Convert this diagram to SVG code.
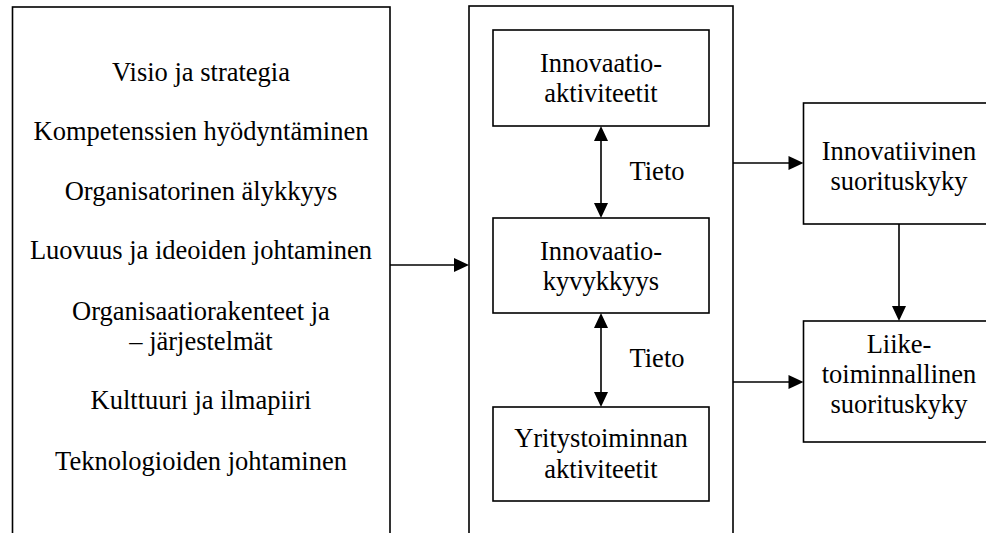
<svg xmlns="http://www.w3.org/2000/svg" width="986" height="533" viewBox="0 0 986 533">
  <rect width="986" height="533" fill="#fff"/>

  <g font-size="26.5" fill="#000">

  <!-- Left panel: management factors -->
  <g id="factors">
    <rect x="12.5" y="7" width="377.5" height="540" fill="#fff" stroke="#000" stroke-width="1.6"/>
    <text font-family="'Liberation Serif', serif" text-anchor="middle" x="201" y="81">Visio ja strategia</text>
    <text font-family="'Liberation Serif', serif" text-anchor="middle" x="201" y="140">Kompetenssien hyödyntäminen</text>
    <text font-family="'Liberation Serif', serif" text-anchor="middle" x="201" y="200">Organisatorinen älykkyys</text>
    <text font-family="'Liberation Serif', serif" text-anchor="middle" x="201" y="259">Luovuus ja ideoiden johtaminen</text>
    <text font-family="'Liberation Serif', serif" text-anchor="middle" x="201" y="320">Organisaatiorakenteet ja</text>
    <text font-family="'Liberation Serif', serif" text-anchor="middle" x="201" y="350">– järjestelmät</text>
    <text font-family="'Liberation Serif', serif" text-anchor="middle" x="201" y="409">Kulttuuri ja ilmapiiri</text>
    <text font-family="'Liberation Serif', serif" text-anchor="middle" x="201" y="470">Teknologioiden johtaminen</text>
  </g>

  <!-- Middle panel container -->
  <g id="core">
    <rect x="469" y="6" width="264" height="540" fill="#fff" stroke="#000" stroke-width="1.6"/>
  </g>

  <g id="innovation-activities">
    <rect x="493" y="30" width="216" height="96" fill="#fff" stroke="#000" stroke-width="1.6"/>
    <text font-family="'Liberation Serif', serif" text-anchor="middle" x="601" y="72">Innovaatio-</text>
    <text font-family="'Liberation Serif', serif" text-anchor="middle" x="601" y="102">aktiviteetit</text>
  </g>

  <g id="innovation-capability">
    <rect x="493" y="218" width="216" height="95" fill="#fff" stroke="#000" stroke-width="1.6"/>
    <text font-family="'Liberation Serif', serif" text-anchor="middle" x="601" y="260">Innovaatio-</text>
    <text font-family="'Liberation Serif', serif" text-anchor="middle" x="601" y="290">kyvykkyys</text>
  </g>

  <g id="business-activities">
    <rect x="493" y="407" width="216" height="94" fill="#fff" stroke="#000" stroke-width="1.6"/>
    <text font-family="'Liberation Serif', serif" text-anchor="middle" x="601" y="447">Yritystoiminnan</text>
    <text font-family="'Liberation Serif', serif" text-anchor="middle" x="601" y="478">aktiviteetit</text>
  </g>

  <!-- Right column: performance outcomes -->
  <g id="innovative-performance">
    <rect x="803.5" y="103" width="192" height="121" fill="#fff" stroke="#000" stroke-width="1.6"/>
    <text font-family="'Liberation Serif', serif" text-anchor="middle" x="899" y="160">Innovatiivinen</text>
    <text font-family="'Liberation Serif', serif" text-anchor="middle" x="899" y="190">suorituskyky</text>
  </g>

  <g id="business-performance">
    <rect x="803.5" y="321" width="192" height="121" fill="#fff" stroke="#000" stroke-width="1.6"/>
    <text font-family="'Liberation Serif', serif" text-anchor="middle" x="899" y="353">Liike-</text>
    <text font-family="'Liberation Serif', serif" text-anchor="middle" x="899" y="383">toiminnallinen</text>
    <text font-family="'Liberation Serif', serif" text-anchor="middle" x="899" y="413">suorituskyky</text>
  </g>

  <!-- Connectors: shafts plus filled triangular heads -->
  <g id="connectors" stroke="#000" stroke-width="1.6">
    <line x1="390" y1="265" x2="455" y2="265"/>
    <polygon points="469,265 454,258 454,272" stroke="none"/>
    <line x1="601" y1="140" x2="601" y2="204"/>
    <polygon points="601,126 594,141 608,141" stroke="none"/>
    <polygon points="601,218 594,203 608,203" stroke="none"/>
    <line x1="601" y1="327" x2="601" y2="393"/>
    <polygon points="601,313 594,328 608,328" stroke="none"/>
    <polygon points="601,407 594,392 608,392" stroke="none"/>
    <line x1="733" y1="163" x2="789" y2="163"/>
    <polygon points="803.5,163 788.5,156 788.5,170" stroke="none"/>
    <line x1="733" y1="382" x2="789" y2="382"/>
    <polygon points="803.5,382 788.5,375 788.5,389" stroke="none"/>
    <line x1="899" y1="224" x2="899" y2="307"/>
    <polygon points="899,321 892,306 906,306" stroke="none"/>
  </g>
  <g id="connector-labels">
    <text font-family="'Liberation Serif', serif" text-anchor="middle" x="657" y="180">Tieto</text>
    <text font-family="'Liberation Serif', serif" text-anchor="middle" x="657" y="367">Tieto</text>
  </g>

  </g>
</svg>
